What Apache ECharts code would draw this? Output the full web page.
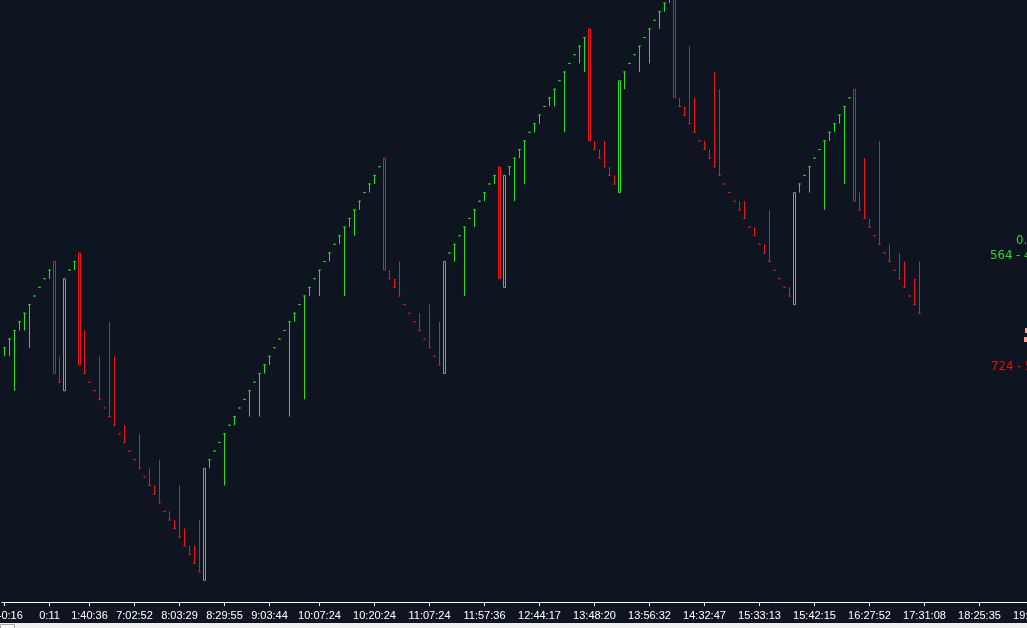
<!DOCTYPE html>
<html><head><meta charset="utf-8">
<script src="https://cdn.jsdelivr.net/npm/echarts@6/dist/echarts.min.js"></script>
<style>html,body{margin:0;padding:0;background:#0f1520;overflow:hidden}#c{width:1027px;height:628px}</style>
</head><body><div id="c"></div>
<script>
// Bar data (price in brick units), one entry per bar
const open = [
 27,28,29,30,31,32,33,34,35,36, 37,23,22,36,37,38,24,23,22,21,
 20,19,18,17,16,15,14,13,12,11, 10,9,8,7,6,5,4,3,2,1,
 0,14,15,16,17,18,19,20,21,22, 23,24,25,26,27,28,29,30,31,32,
 33,34,35,36,37,38,39,40,41,42, 43,44,45,46,47,48,49,35,34,33,
 32,31,30,29,28,27,26,25,24,38, 39,40,41,42,43,44,45,46,47,48,
 34,48,49,50,51,52,53,54,55,56, 57,58,59,60,61,62,63,64,50,49,
 48,47,46,45,59,60,61,62,63,64, 65,66,67,68,69,55,54,53,52,51,
 50,49,48,47,46,45,44,43,42,41, 40,39,38,37,36,35,34,33,32,46,
 47,48,49,50,51,52,53,54,55,56, 57,43,42,41,40,39,38,37,36,35,
 34,33,32,31];
const close = [
 27,28,29,30,31,32,33,34,35,36, 24,23,35,36,37,25,24,23,22,21,
 20,19,18,17,16,15,14,13,12,11, 10,9,8,7,6,5,4,3,2,1,
 13,14,15,16,17,18,19,20,21,22, 23,24,25,26,27,28,29,30,31,32,
 33,34,35,36,37,38,39,40,41,42, 43,44,45,46,47,48,36,35,34,33,
 32,31,30,29,28,27,26,25,37,38, 39,40,41,42,43,44,45,46,47,35,
 47,48,49,50,51,52,53,54,55,56, 57,58,59,60,61,62,63,51,50,49,
 48,47,46,58,59,60,61,62,63,64, 65,66,67,68,56,55,54,53,52,51,
 50,49,48,47,46,45,44,43,42,41, 40,39,38,37,36,35,34,33,45,46,
 47,48,49,50,51,52,53,54,55,56, 44,43,42,41,40,39,38,37,36,35,
 34,33,32,31];
const low = [
 26,26,22,29,29,27,33,34,35,35, 24,23,22,36,36,25,24,23,22,21,
 20,19,18,17,16,15,14,13,12,11, 10,9,8,7,6,5,4,3,2,1,
 0,13,15,16,11,18,18,20,21,19, 23,19,24,25,27,28,29,19,30,32,
 21,33,35,33,37,37,39,39,33,41, 40,43,45,45,46,48,36,35,34,33,
 32,31,30,29,28,27,26,25,24,38, 37,40,33,42,41,44,44,46,46,35,
 34,47,44,49,46,52,52,53,55,55, 55,58,52,60,61,60,59,51,50,49,
 48,47,46,45,57,60,61,59,63,60, 65,64,66,67,56,55,54,53,52,51,
 50,49,48,47,46,45,44,43,42,41, 40,39,38,37,36,35,34,33,32,45,
 47,45,49,50,43,51,52,53,46,56, 44,43,42,41,40,39,38,37,36,35,
 34,33,32,31];
const high = [
 27,28,29,30,31,32,33,34,35,36, 37,26,35,36,37,38,29,23,22,26,
 20,30,26,17,18,15,14,17,12,13, 11,14,8,8,7,11,6,4,4,7,
 13,14,15,16,17,18,19,20,21,22, 23,24,25,26,27,28,29,30,31,32,
 33,34,35,36,37,38,39,40,41,42, 43,44,45,46,47,48,49,36,35,37,
 32,31,30,31,28,32,26,30,37,38, 39,40,41,42,43,44,45,46,47,48,
 47,48,49,50,51,52,53,54,55,56, 57,58,59,60,61,62,63,64,51,50,
 51,48,47,58,59,60,61,62,63,64, 65,66,67,68,69,56,55,62,56,51,
 51,50,59,57,46,45,44,44,44,41, 41,39,39,43,36,35,34,34,45,46,
 47,48,49,50,51,52,53,54,55,56, 57,45,49,42,40,51,38,39,36,38,
 37,33,35,37];
// u = up (green), d = down (red)
const direction =
 "uuuuuuuuuu" + "dduuuddddd" + "dddddddddd" + "dddddddddd" +
 "uuuuuuuuuu" + "uuuuuuuuuu" + "uuuuuuuuuu" + "uuuuuudddd" +
 "dddddddduu" + "uuuuuuuuud" + "uuuuuuuuuu" + "uuuuuuuddd" +
 "ddduuuuuuu" + "uuuudddddd" + "dddddddddd" + "dddddddduu" +
 "uuuuuuuuuu" + "dddddddddd" + "dddd";
// time axis labels and the bar each one marks
const tickBar = [0,9,17,26,35,44,53,63,74,85,96,107,118,129,140,151,162,173,184,195,206];
const tickLabels = ['3:40:16','0:11','1:40:36','7:02:52','8:03:29','8:29:55','9:03:44','10:07:24',
 '10:20:24','11:07:24','11:57:36','12:44:17','13:48:20','13:56:32','14:32:47','15:33:13',
 '15:42:15','16:27:52','17:31:08','18:25:35','19:12:40'];
const slotCount = 212;

const BG = '#0f1520', UP = '#1ee61e', DOWN = '#f01414';
const categories = [];
for (let i = 0; i < slotCount; i++) categories.push(String(i));
const labelAt = {};
tickBar.forEach((b, j) => { labelAt[b] = tickLabels[j]; });

const items = open.map((o, i) => {
  const col = direction[i] === 'u' ? UP : DOWN;
  return {
    value: [o, close[i], low[i], high[i]],
    itemStyle: { color: BG, color0: BG, borderColor: col, borderColor0: col, borderColorDoji: col, borderWidth: 1 }
  };
});

const chart = echarts.init(document.getElementById('c'), null, { renderer: 'canvas' });
chart.setOption({
  backgroundColor: BG,
  animation: false,
  grid: { left: 2, right: -35, top: -40, bottom: 26, outerBoundsMode: 'none' },
  xAxis: {
    type: 'category', data: categories, boundaryGap: true,
    axisLine: { show: true, onZero: false, lineStyle: { color: '#ffffff', width: 1 } },
    axisTick: { show: true, alignWithLabel: true, length: 4, lineStyle: { color: '#ffffff' },
      interval: (idx) => labelAt[idx] !== undefined },
    axisLabel: { show: true, color: '#ffffff', fontFamily: 'Liberation Sans, Arial, sans-serif', fontSize: 11, margin: 8,
      interval: (idx) => labelAt[idx] !== undefined,
      formatter: (v, idx) => labelAt[idx] || '' },
    splitLine: { show: false }
  },
  yAxis: { type: 'value', min: -2.52, max: 72, show: false, splitLine: { show: false } },
  series: [{
    type: 'candlestick', barWidth: 2, data: items, silent: true,
    itemStyle: { color: BG, color0: BG, borderColor: UP, borderColor0: DOWN, borderColorDoji: UP },
    emphasis: { disabled: true }
  }],
  graphic: [
    { type: 'text', left: 1016, top: 234, silent: true,
      style: { text: '0.48', fill: UP, font: '13px "Liberation Sans Narrow", "DejaVu Sans Condensed", sans-serif' } },
    { type: 'text', left: 990, top: 249, silent: true,
      style: { text: '564 - 4320', fill: UP, font: '13px "Liberation Sans Narrow", "DejaVu Sans Condensed", sans-serif' } },
    { type: 'text', left: 991, top: 360, silent: true,
      style: { text: '724 - 5180', fill: '#e01010', font: '13px "Liberation Sans Narrow", "DejaVu Sans Condensed", sans-serif' } },
    { type: 'rect', shape: { x: 1025, y: 328, width: 3, height: 5 }, style: { fill: '#ff9c9c' }, silent: true },
    { type: 'rect', shape: { x: 1024, y: 337, width: 4, height: 5 }, style: { fill: '#ff9c9c' }, silent: true },
    { type: 'rect', shape: { x: 0, y: 623, width: 1027, height: 5 }, style: { fill: '#f0f0f0' }, silent: true },
    { type: 'rect', shape: { x: 0.5, y: 624.5, width: 14, height: 6 }, style: { fill: '#fbfbfb', stroke: '#a8a8a8', lineWidth: 1 }, silent: true }
  ]
});
</script>
</body></html>
